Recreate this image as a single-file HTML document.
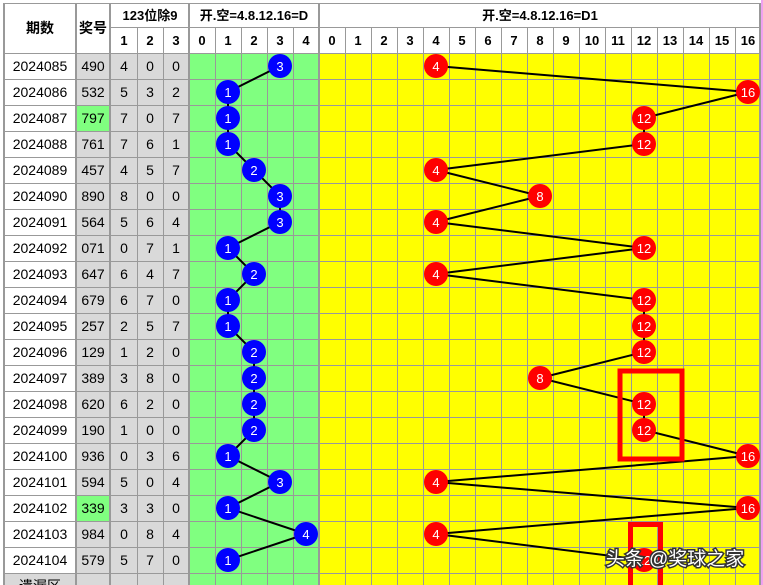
<!DOCTYPE html>
<html><head><meta charset="utf-8"><style>
html,body{margin:0;padding:0;background:#fff;width:763px;height:585px;overflow:hidden}
svg{display:block}
.t{font-family:"Liberation Sans","Noto Sans CJK SC",sans-serif;font-size:14px;fill:#000;text-anchor:middle}
.h{font-weight:bold;font-size:13px}
.bw{fill:#fff;font-size:13px}
</style></head><body>
<svg width="763" height="585" viewBox="0 0 763 585" xmlns="http://www.w3.org/2000/svg">
<rect x="0" y="0" width="763" height="585" fill="#fff"/>
<rect x="76" y="53" width="113" height="532" fill="#d9d9d9"/>
<rect x="4" y="573" width="72" height="12" fill="#d9d9d9"/>
<rect x="189" y="53" width="130" height="532" fill="#80ff80"/>
<rect x="319" y="53" width="442" height="532" fill="#ffff00"/>
<rect x="76" y="105" width="34" height="26" fill="#80ff80"/>
<rect x="76" y="495" width="34" height="26" fill="#80ff80"/>
<rect x="761" y="0" width="2" height="585" fill="#f0a0f0"/>
<g stroke="#999" stroke-width="1" fill="none">
<path d="M4.5 3.5H760.5 M110 27.5H760 M4 53.5H761 M4 79.5H761 M4 105.5H761 M4 131.5H761 M4 157.5H761 M4 183.5H761 M4 209.5H761 M4 235.5H761 M4 261.5H761 M4 287.5H761 M4 313.5H761 M4 339.5H761 M4 365.5H761 M4 391.5H761 M4 417.5H761 M4 443.5H761 M4 469.5H761 M4 495.5H761 M4 521.5H761 M4 547.5H761 M4 573.5H761"/>
<path d="M137.5 27V585 M163.5 27V585 M215.5 27V585 M241.5 27V585 M267.5 27V585 M293.5 27V585 M345.5 27V585 M371.5 27V585 M397.5 27V585 M423.5 27V585 M449.5 27V585 M475.5 27V585 M501.5 27V585 M527.5 27V585 M553.5 27V585 M579.5 27V585 M605.5 27V585 M631.5 27V585 M657.5 27V585 M683.5 27V585 M709.5 27V585 M735.5 27V585"/>
</g>
<g stroke="#999" stroke-width="2" fill="none">
<path d="M4 3V585 M76 3V585 M110 3V585 M189 3V585 M319 3V585 M760 3V585"/>
</g>
<text class="t h" x="40" y="33" style="font-size:14px">期数</text>
<text class="t h" x="93" y="33" style="font-size:14px">奖号</text>
<text class="t h" x="150" y="20">123位除9</text>
<text class="t h" x="254" y="20">开.空=4.8.12.16=D</text>
<text class="t h" x="540" y="20">开.空=4.8.12.16=D1</text>
<g class="t h">
<text x="124" y="45">1</text><text x="150" y="45">2</text><text x="176" y="45">3</text>
<text x="202" y="45">0</text><text x="228" y="45">1</text><text x="254" y="45">2</text><text x="280" y="45">3</text><text x="306" y="45">4</text>
<text x="332" y="45">0</text><text x="358" y="45">1</text><text x="384" y="45">2</text><text x="410" y="45">3</text><text x="436" y="45">4</text><text x="462" y="45">5</text><text x="488" y="45">6</text><text x="514" y="45">7</text><text x="540" y="45">8</text><text x="566" y="45">9</text><text x="592" y="45">10</text><text x="618" y="45">11</text><text x="644" y="45">12</text><text x="670" y="45">13</text><text x="696" y="45">14</text><text x="722" y="45">15</text><text x="748" y="45">16</text>
</g>
<g class="t">
<text x="40" y="71">2024085</text><text x="93" y="71">490</text><text x="124" y="71">4</text><text x="150" y="71">0</text><text x="176" y="71">0</text>
<text x="40" y="97">2024086</text><text x="93" y="97">532</text><text x="124" y="97">5</text><text x="150" y="97">3</text><text x="176" y="97">2</text>
<text x="40" y="123">2024087</text><text x="93" y="123">797</text><text x="124" y="123">7</text><text x="150" y="123">0</text><text x="176" y="123">7</text>
<text x="40" y="149">2024088</text><text x="93" y="149">761</text><text x="124" y="149">7</text><text x="150" y="149">6</text><text x="176" y="149">1</text>
<text x="40" y="175">2024089</text><text x="93" y="175">457</text><text x="124" y="175">4</text><text x="150" y="175">5</text><text x="176" y="175">7</text>
<text x="40" y="201">2024090</text><text x="93" y="201">890</text><text x="124" y="201">8</text><text x="150" y="201">0</text><text x="176" y="201">0</text>
<text x="40" y="227">2024091</text><text x="93" y="227">564</text><text x="124" y="227">5</text><text x="150" y="227">6</text><text x="176" y="227">4</text>
<text x="40" y="253">2024092</text><text x="93" y="253">071</text><text x="124" y="253">0</text><text x="150" y="253">7</text><text x="176" y="253">1</text>
<text x="40" y="279">2024093</text><text x="93" y="279">647</text><text x="124" y="279">6</text><text x="150" y="279">4</text><text x="176" y="279">7</text>
<text x="40" y="305">2024094</text><text x="93" y="305">679</text><text x="124" y="305">6</text><text x="150" y="305">7</text><text x="176" y="305">0</text>
<text x="40" y="331">2024095</text><text x="93" y="331">257</text><text x="124" y="331">2</text><text x="150" y="331">5</text><text x="176" y="331">7</text>
<text x="40" y="357">2024096</text><text x="93" y="357">129</text><text x="124" y="357">1</text><text x="150" y="357">2</text><text x="176" y="357">0</text>
<text x="40" y="383">2024097</text><text x="93" y="383">389</text><text x="124" y="383">3</text><text x="150" y="383">8</text><text x="176" y="383">0</text>
<text x="40" y="409">2024098</text><text x="93" y="409">620</text><text x="124" y="409">6</text><text x="150" y="409">2</text><text x="176" y="409">0</text>
<text x="40" y="435">2024099</text><text x="93" y="435">190</text><text x="124" y="435">1</text><text x="150" y="435">0</text><text x="176" y="435">0</text>
<text x="40" y="461">2024100</text><text x="93" y="461">936</text><text x="124" y="461">0</text><text x="150" y="461">3</text><text x="176" y="461">6</text>
<text x="40" y="487">2024101</text><text x="93" y="487">594</text><text x="124" y="487">5</text><text x="150" y="487">0</text><text x="176" y="487">4</text>
<text x="40" y="513">2024102</text><text x="93" y="513">339</text><text x="124" y="513">3</text><text x="150" y="513">3</text><text x="176" y="513">0</text>
<text x="40" y="539">2024103</text><text x="93" y="539">984</text><text x="124" y="539">0</text><text x="150" y="539">8</text><text x="176" y="539">4</text>
<text x="40" y="565">2024104</text><text x="93" y="565">579</text><text x="124" y="565">5</text><text x="150" y="565">7</text><text x="176" y="565">0</text>
<text x="40" y="591">遗漏区</text>
</g>
<g stroke="#000" stroke-width="2" fill="none">
<polyline points="280,66 228,92 228,118 228,144 254,170 280,196 280,222 228,248 254,274 228,300 228,326 254,352 254,378 254,404 254,430 228,456 280,482 228,508 306,534 228,560"/>
<polyline points="436,66 748,92 644,118 644,144 436,170 540,196 436,222 644,248 436,274 644,300 644,326 644,352 540,378 644,404 644,430 748,456 436,482 748,508 436,534 644,560"/>
</g>
<g fill="#0000ff">
<circle cx="280" cy="66" r="12"/><circle cx="228" cy="92" r="12"/><circle cx="228" cy="118" r="12"/><circle cx="228" cy="144" r="12"/><circle cx="254" cy="170" r="12"/><circle cx="280" cy="196" r="12"/><circle cx="280" cy="222" r="12"/><circle cx="228" cy="248" r="12"/><circle cx="254" cy="274" r="12"/><circle cx="228" cy="300" r="12"/><circle cx="228" cy="326" r="12"/><circle cx="254" cy="352" r="12"/><circle cx="254" cy="378" r="12"/><circle cx="254" cy="404" r="12"/><circle cx="254" cy="430" r="12"/><circle cx="228" cy="456" r="12"/><circle cx="280" cy="482" r="12"/><circle cx="228" cy="508" r="12"/><circle cx="306" cy="534" r="12"/><circle cx="228" cy="560" r="12"/>
</g>
<g class="t bw">
<text x="280" y="71">3</text><text x="228" y="97">1</text><text x="228" y="123">1</text><text x="228" y="149">1</text><text x="254" y="175">2</text><text x="280" y="201">3</text><text x="280" y="227">3</text><text x="228" y="253">1</text><text x="254" y="279">2</text><text x="228" y="305">1</text><text x="228" y="331">1</text><text x="254" y="357">2</text><text x="254" y="383">2</text><text x="254" y="409">2</text><text x="254" y="435">2</text><text x="228" y="461">1</text><text x="280" y="487">3</text><text x="228" y="513">1</text><text x="306" y="539">4</text><text x="228" y="565">1</text>
</g>
<g fill="#ff0000">
<circle cx="436" cy="66" r="12"/><circle cx="748" cy="92" r="12"/><circle cx="644" cy="118" r="12"/><circle cx="644" cy="144" r="12"/><circle cx="436" cy="170" r="12"/><circle cx="540" cy="196" r="12"/><circle cx="436" cy="222" r="12"/><circle cx="644" cy="248" r="12"/><circle cx="436" cy="274" r="12"/><circle cx="644" cy="300" r="12"/><circle cx="644" cy="326" r="12"/><circle cx="644" cy="352" r="12"/><circle cx="540" cy="378" r="12"/><circle cx="644" cy="404" r="12"/><circle cx="644" cy="430" r="12"/><circle cx="748" cy="456" r="12"/><circle cx="436" cy="482" r="12"/><circle cx="748" cy="508" r="12"/><circle cx="436" cy="534" r="12"/><circle cx="644" cy="560" r="12"/>
</g>
<g class="t bw">
<text x="436" y="71">4</text><text x="748" y="97">16</text><text x="644" y="123">12</text><text x="644" y="149">12</text><text x="436" y="175">4</text><text x="540" y="201">8</text><text x="436" y="227">4</text><text x="644" y="253">12</text><text x="436" y="279">4</text><text x="644" y="305">12</text><text x="644" y="331">12</text><text x="644" y="357">12</text><text x="540" y="383">8</text><text x="644" y="409">12</text><text x="644" y="435">12</text><text x="748" y="461">16</text><text x="436" y="487">4</text><text x="748" y="513">16</text><text x="436" y="539">4</text><text x="644" y="565">12</text>
</g>
<rect x="620" y="371" width="62" height="88" fill="none" stroke="#ff0000" stroke-width="5"/>
<rect x="630.5" y="524.5" width="30" height="70" fill="none" stroke="#ff0000" stroke-width="5"/>
<text x="675" y="565" style="font-family:'Liberation Sans','Noto Sans CJK SC',sans-serif;font-size:19px;text-anchor:middle" fill="#333" stroke="#333" stroke-width="3">头条 @奖球之家</text>
<text x="675" y="565" style="font-family:'Liberation Sans','Noto Sans CJK SC',sans-serif;font-size:19px;text-anchor:middle" fill="#fff">头条 @奖球之家</text>
</svg>
</body></html>
